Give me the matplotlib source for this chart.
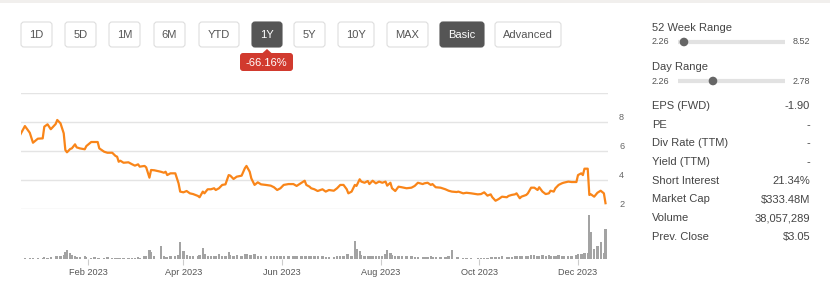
import matplotlib.pyplot as plt
import matplotlib.dates as mdates
import pandas as pd
from matplotlib.patches import FancyBboxPatch, Polygon, Circle, Rectangle

plt.rcParams['font.family'] = ['Liberation Sans', 'DejaVu Sans']

# daily-ish samples
dates = [
    "2022-12-21", "2022-12-24", "2022-12-27", "2022-12-29", "2023-01-01", "2023-01-04", "2023-01-05", "2023-01-07", "2023-01-09", "2023-01-12",
    "2023-01-13", "2023-01-15", "2023-01-17", "2023-01-18", "2023-01-19", "2023-01-21", "2023-01-22", "2023-01-24", "2023-01-25", "2023-01-27",
    "2023-01-30", "2023-01-31", "2023-02-03", "2023-02-05", "2023-02-07", "2023-02-08", "2023-02-11", "2023-02-13", "2023-02-16", "2023-02-18",
    "2023-02-19", "2023-02-20", "2023-02-21", "2023-02-23", "2023-02-26", "2023-02-28", "2023-03-02", "2023-03-04", "2023-03-05", "2023-03-08",
    "2023-03-09", "2023-03-11", "2023-03-12", "2023-03-14", "2023-03-18", "2023-03-20", "2023-03-21", "2023-03-22", "2023-03-24", "2023-03-27",
    "2023-03-29", "2023-03-30", "2023-04-01", "2023-04-03", "2023-04-05", "2023-04-07", "2023-04-10", "2023-04-11", "2023-04-13", "2023-04-14",
    "2023-04-16", "2023-04-18", "2023-04-20", "2023-04-21", "2023-04-23", "2023-04-25", "2023-04-27", "2023-04-29", "2023-04-30", "2023-05-02",
    "2023-05-04", "2023-05-07", "2023-05-09", "2023-05-10", "2023-05-12", "2023-05-13", "2023-05-15", "2023-05-17", "2023-05-19", "2023-05-22",
    "2023-05-25", "2023-05-27", "2023-05-29", "2023-05-31", "2023-06-02", "2023-06-05", "2023-06-08", "2023-06-10", "2023-06-13", "2023-06-15",
    "2023-06-16", "2023-06-18", "2023-06-19", "2023-06-21", "2023-06-23", "2023-06-26", "2023-06-28", "2023-06-30", "2023-07-03", "2023-07-05",
    "2023-07-07", "2023-07-09", "2023-07-11", "2023-07-12", "2023-07-14", "2023-07-16", "2023-07-17", "2023-07-19", "2023-07-20", "2023-07-22",
    "2023-07-24", "2023-07-25", "2023-07-27", "2023-07-29", "2023-07-31", "2023-08-02", "2023-08-04", "2023-08-05", "2023-08-07", "2023-08-08",
    "2023-08-10", "2023-08-12", "2023-08-14", "2023-08-17", "2023-08-20", "2023-08-22", "2023-08-24", "2023-08-27", "2023-08-28", "2023-08-30",
    "2023-09-01", "2023-09-02", "2023-09-04", "2023-09-07", "2023-09-10", "2023-09-12", "2023-09-14", "2023-09-17", "2023-09-18", "2023-09-21",
    "2023-09-23", "2023-09-26", "2023-09-30", "2023-10-02", "2023-10-04", "2023-10-06", "2023-10-08", "2023-10-09", "2023-10-11", "2023-10-13",
    "2023-10-15", "2023-10-18", "2023-10-19", "2023-10-21", "2023-10-23", "2023-10-24", "2023-10-26", "2023-10-27", "2023-10-30", "2023-10-31",
    "2023-11-02", "2023-11-04", "2023-11-06", "2023-11-07", "2023-11-09", "2023-11-11", "2023-11-13", "2023-11-14", "2023-11-16", "2023-11-17",
    "2023-11-19", "2023-11-21", "2023-11-22", "2023-11-25", "2023-11-27", "2023-11-30", "2023-12-01", "2023-12-03", "2023-12-04", "2023-12-05",
    "2023-12-07", "2023-12-08", "2023-12-09", "2023-12-11", "2023-12-13", "2023-12-15", "2023-12-17", "2023-12-18",
]
prices = [
    7.10, 7.72, 7.26, 6.57, 6.85, 6.87, 7.68, 7.84, 7.50, 7.86,
    8.14, 7.91, 7.22, 6.07, 5.91, 6.14, 6.18, 6.46, 6.25, 6.18,
    6.12, 6.34, 6.62, 6.62, 6.62, 6.18, 5.95, 5.88, 5.88, 5.66,
    5.61, 5.26, 5.33, 5.19, 5.22, 5.10, 4.99, 5.08, 4.92, 4.97,
    4.87, 4.16, 4.69, 4.67, 4.57, 4.50, 4.57, 4.34, 4.46, 4.46,
    3.77, 3.20, 3.15, 3.24, 3.08, 3.03, 2.90, 2.81, 3.20, 3.08,
    3.36, 3.36, 3.43, 3.31, 3.43, 3.66, 3.70, 4.34, 4.30, 4.07,
    4.23, 4.30, 4.81, 4.97, 4.57, 4.11, 3.66, 3.84, 3.70, 3.66,
    3.61, 3.50, 3.31, 3.43, 3.66, 3.72, 3.72, 3.59, 3.81, 3.95,
    3.66, 3.54, 3.43, 3.36, 3.24, 3.36, 3.20, 3.31, 3.26, 3.43,
    3.66, 3.66, 3.36, 3.08, 3.20, 3.66, 3.59, 4.05, 3.89, 3.81,
    3.93, 3.72, 3.95, 3.77, 3.89, 3.81, 3.89, 3.61, 3.81, 3.43,
    3.24, 3.54, 3.50, 3.43, 3.47, 3.59, 3.81, 3.72, 3.77, 3.81,
    3.66, 3.72, 3.50, 3.47, 3.36, 3.26, 3.20, 3.17, 3.20, 3.08,
    3.12, 3.08, 3.01, 3.03, 3.15, 2.92, 3.01, 2.81, 2.57, 2.69,
    2.85, 2.81, 2.90, 2.97, 3.01, 3.08, 2.74, 2.85, 2.97, 3.08,
    3.47, 3.47, 3.31, 3.50, 3.20, 3.03, 3.08, 3.26, 3.20, 3.43,
    3.66, 3.77, 3.81, 3.89, 3.86, 3.86, 4.34, 4.46, 4.34, 4.78,
    4.78, 2.97, 3.01, 2.85, 3.12, 3.26, 3.08, 2.40,
]
# volume in millions
volumes = [
    2.5, 1.9, 1.9, 1.9, 1.9, 1.9, 2.5, 1.9, 2.5, 3.2,
    3.8, 3.8, 5.1, 8.9, 11.4, 7.6, 5.1, 3.8, 2.5, 2.5,
    3.2, 2.5, 1.9, 2.5, 1.9, 1.9, 1.9, 2.5, 1.9, 1.9,
    1.9, 1.9, 1.9, 1.9, 1.9, 1.9, 1.9, 2.5, 1.9, 3.2,
    3.8, 11.4, 8.9, 3.8, 16.5, 3.8, 2.5, 2.5, 3.2, 3.8,
    5.1, 21.6, 10.2, 5.1, 3.8, 3.8, 3.8, 5.1, 14.0, 6.4,
    3.8, 3.8, 3.2, 3.8, 6.4, 3.8, 3.8, 8.9, 5.1, 3.8,
    5.1, 3.8, 6.4, 6.4, 5.1, 5.1, 6.4, 3.8, 3.8, 3.2,
    3.2, 3.2, 3.2, 3.2, 3.2, 3.8, 3.8, 3.8, 4.4, 3.8,
    3.8, 3.2, 3.8, 3.8, 3.2, 3.2, 2.5, 2.5, 2.5, 3.2,
    3.8, 3.8, 6.4, 6.4, 3.8, 22.9, 12.7, 10.2, 5.1, 3.8,
    3.8, 3.2, 3.8, 3.8, 3.8, 4.4, 6.4, 11.4, 7.6, 5.1,
    4.4, 4.4, 3.8, 3.8, 3.2, 2.5, 2.5, 2.5, 2.5, 2.5,
    3.2, 2.5, 2.5, 2.5, 2.5, 3.8, 11.4, 2.5, 2.5, 1.9,
    1.9, 1.9, 1.9, 1.9, 1.9, 1.9, 2.5, 2.5, 2.5, 2.5,
    3.2, 2.5, 2.5, 2.5, 3.2, 3.8, 3.2, 3.2, 3.8, 3.8,
    5.1, 5.1, 3.8, 4.4, 5.1, 4.4, 5.1, 4.4, 4.4, 3.8,
    5.1, 4.4, 3.8, 3.8, 4.4, 5.1, 6.4, 6.4, 6.4, 7.6,
    7.6, 55.9, 34.3, 12.7, 16.5, 21.6, 7.6, 38.1,
]

range_buttons = ["1D", "5D", "1M", "6M", "YTD", "1Y", "5Y", "10Y", "MAX", "Basic", "Advanced"]
active_buttons = ["1Y", "Basic"]
change_label = "-66.16%"

week52_range = (2.26, 8.52)
week52_mark = 2.61
day_range = (2.26, 2.78)
day_mark = 2.43

stat_labels = ["EPS (FWD)", "PE", "Div Rate (TTM)", "Yield (TTM)",
               "Short Interest", "Market Cap", "Volume", "Prev. Close"]
stat_values = ["-1.90", "-", "-", "-", "21.34%", "$333.48M", "38,057,289", "$3.05"]

dts = pd.to_datetime(dates)
x0 = pd.Timestamp("2022-12-21 14:00")
x1 = pd.Timestamp("2023-12-19 13:00")

fig = plt.figure(figsize=(8.3, 2.86), dpi=100)

# page overlay in pixel coordinates
ov = fig.add_axes([0, 0, 1, 1])
ov.set_xlim(0, 830)
ov.set_ylim(286, 0)
ov.axis("off")
ov.add_patch(Rectangle((0, 0), 830, 3, color="#f1efed", lw=0))

btn_pos = [(21, 52), (65, 96), (109, 140), (154, 185), (199, 239), (252, 282),
           (294, 325), (338, 374), (387, 428), (440, 484), (495, 561)]
for lab, (l, r) in zip(range_buttons, btn_pos):
    on = lab in active_buttons
    ov.add_patch(FancyBboxPatch((l, 22), r - l, 25, boxstyle="round,pad=0,rounding_size=3",
                                fc="#555555" if on else "white",
                                ec="#555555" if on else "#dedede", lw=0.8))
    ov.text((l + r) / 2, 35, lab, ha="center", va="center", fontsize=8,
            color="white" if on else "#555555")

ov.add_patch(FancyBboxPatch((240, 53), 53, 18, boxstyle="round,pad=0,rounding_size=3",
                            fc="#d13a2e", ec="none"))
ov.add_patch(Polygon([(262, 53.5), (267, 49), (272, 53.5)], closed=True, fc="#d13a2e", ec="none"))
ov.text(266.5, 62.5, change_label, ha="center", va="center", fontsize=8, color="white")

# right panel
lab_x, val_x, trk_l, trk_r = 652, 810, 678, 785
for title, (lo, hi), mark, ty in [("52 Week Range", week52_range, week52_mark, 28),
                                  ("Day Range", day_range, day_mark, 67)]:
    ov.text(lab_x, ty, title, ha="left", va="center", fontsize=8, color="#444444")
    ov.text(lab_x, ty + 14, f"{lo:.2f}", ha="left", va="center", fontsize=6.5, color="#555555")
    ov.text(val_x, ty + 14, f"{hi:.2f}", ha="right", va="center", fontsize=6.5, color="#555555")
    ov.plot([trk_l, trk_r], [ty + 14, ty + 14], color="#e2e2e2", lw=3, solid_capstyle="butt")
    mx = trk_l + (mark - lo) / (hi - lo) * (trk_r - trk_l)
    ov.add_patch(Circle((mx, ty + 14), 3.6, color="#666666", zorder=3))

for i, (lab, val) in enumerate(zip(stat_labels, stat_values)):
    y = 106 + i * 18.7
    ov.text(lab_x, y, lab, ha="left", va="center", fontsize=8, color="#444444")
    ov.text(val_x, y, val, ha="right", va="center", fontsize=8, color="#444444")

# price chart
ax = fig.add_axes([21 / 830, 1 - 209 / 286, 587 / 830, 116 / 286])
ax.patch.set_alpha(0)
ax.plot(dts, prices, color="#f98519", lw=1.6, solid_joinstyle="round")
ax.set_xlim(x0, x1)
ax.set_ylim(2, 10)
ax.set_yticks([2, 4, 6, 8, 10])
ax.set_yticklabels(["2", "4", "6", "8", ""])
ax.yaxis.tick_right()
ax.tick_params(axis="y", length=0, pad=8, labelsize=6.6, labelcolor="#666666")
for t in ax.get_yticklabels():
    t.set_verticalalignment("bottom")
ax.set_xticks([])
ax.grid(axis="y", color="#e4e4e4", lw=1)
ax.set_axisbelow(True)
for s in ax.spines.values():
    s.set_visible(False)

# volume chart
vax = fig.add_axes([21 / 830, 1 - 259 / 286, 587 / 830, 50 / 286])
vax.patch.set_alpha(0)
vax.bar(dts, volumes, width=1.4, color="#a3a3a3", lw=0)
vax.set_xlim(x0, x1)
vax.set_ylim(0, 63.5)
vax.set_yticks([])
vax.xaxis.set_major_locator(mdates.MonthLocator(bymonth=[2, 4, 6, 8, 10, 12]))
vax.xaxis.set_major_formatter(mdates.DateFormatter("%b %Y"))
vax.tick_params(axis="x", length=4.3, width=0.8, color="#cccccc", pad=2,
                labelsize=6.6, labelcolor="#555555")
for s in vax.spines.values():
    s.set_visible(False)

fig.savefig("out.png", dpi=100)
